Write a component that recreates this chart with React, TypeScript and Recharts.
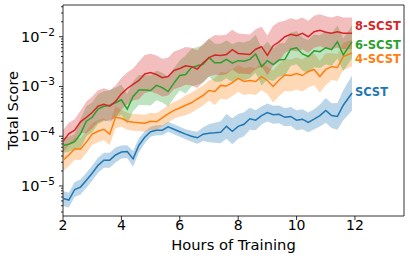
import { ComposedChart, Area, Line, XAxis, YAxis, ReferenceArea, ReferenceDot } from "recharts";

// training time (hours) at each logged evaluation
const hours = [
  2.0, 2.2, 2.4, 2.6, 2.8, 3.0, 3.2, 3.4, 3.6, 3.8,
  4.0, 4.2, 4.4, 4.6, 4.8, 5.0, 5.2, 5.4, 5.6, 5.8,
  6.0, 6.2, 6.4, 6.6, 6.8, 7.0, 7.2, 7.4, 7.6, 7.8,
  8.0, 8.2, 8.4, 8.6, 8.8, 9.0, 9.2, 9.4, 9.6, 9.8,
  10.0, 10.2, 10.4, 10.6, 10.8, 11.0, 11.2, 11.4, 11.6, 11.9,
];

// mean total score per run type
const scst = [
  5.6e-6, 5.2e-6, 8.5e-6, 9.5e-6, 1.3e-5, 1.8e-5, 2.6e-5, 3.3e-5, 3.3e-5, 4.2e-5,
  4.8e-5, 4.9e-5, 3.5e-5, 6.6e-5, 9.5e-5, 1.23e-4, 1.32e-4, 1.32e-4, 1.55e-4, 1.38e-4,
  1.23e-4, 1.1e-4, 1.0e-4, 9.3e-5, 1.1e-4, 1.15e-4, 1.17e-4, 1.2e-4, 1.58e-4, 1.26e-4,
  1.58e-4, 1.74e-4, 2.24e-4, 2.1e-4, 2.6e-4, 3.0e-4, 2.7e-4, 2.75e-4, 2.4e-4, 2.5e-4,
  2.1e-4, 2.2e-4, 1.9e-4, 2.2e-4, 2.6e-4, 3.3e-4, 2.6e-4, 2.5e-4, 4.2e-4, 7.4e-4,
];
const scst4 = [
  3.3e-5, 4.2e-5, 5.6e-5, 5.5e-5, 7.6e-5, 1.1e-4, 1.26e-4, 1.38e-4, 1.1e-4, 2.4e-4,
  2.3e-4, 2.0e-4, 1.9e-4, 1.86e-4, 1.82e-4, 2.0e-4, 1.95e-4, 2.34e-4, 2.8e-4, 3.3e-4,
  3.7e-4, 4.2e-4, 4.7e-4, 5.6e-4, 6.6e-4, 8.3e-4, 7.9e-4, 1.05e-3, 1.02e-3, 1.2e-3,
  1.45e-3, 1.26e-3, 1.32e-3, 1.26e-3, 1.58e-3, 1.32e-3, 1.0e-3, 1.35e-3, 1.7e-3, 1.66e-3,
  1.82e-3, 1.66e-3, 2.0e-3, 2.2e-3, 1.58e-3, 2.2e-3, 2.5e-3, 2.4e-3, 4.0e-3, 4.7e-3,
];
const scst6 = [
  6.5e-5, 6.9e-5, 7.8e-5, 1.12e-4, 2.0e-4, 2.4e-4, 3.5e-4, 4.0e-4, 4.2e-4, 4.7e-4,
  5.4e-4, 3.5e-4, 6.3e-4, 8.5e-4, 8.5e-4, 8.3e-4, 1.05e-3, 9.5e-4, 7.9e-4, 1.17e-3,
  1.66e-3, 1.74e-3, 2.4e-3, 2.6e-3, 2.8e-3, 3.8e-3, 3.0e-3, 3.0e-3, 3.5e-3, 2.95e-3,
  3.3e-3, 3.2e-3, 3.5e-3, 4.5e-3, 2.5e-3, 3.3e-3, 2.75e-3, 3.4e-3, 3.5e-3, 5.6e-3,
  6.0e-3, 4.5e-3, 4.0e-3, 5.2e-3, 5.0e-3, 6.0e-3, 5.5e-3, 7.9e-3, 4.3e-3, 7.9e-3,
];
const scst8 = [
  7.9e-5, 1.12e-4, 1.32e-4, 1.95e-4, 2.4e-4, 3.0e-4, 4.0e-4, 4.4e-4, 4.0e-4, 5.0e-4,
  7.1e-4, 9.1e-4, 1.1e-3, 1.32e-3, 1.78e-3, 1.9e-3, 1.74e-3, 1.5e-3, 1.58e-3, 2.1e-3,
  2.3e-3, 2.6e-3, 2.5e-3, 2.24e-3, 3.0e-3, 3.8e-3, 4.3e-3, 4.2e-3, 4.4e-3, 5.5e-3,
  4.6e-3, 4.5e-3, 4.4e-3, 5.6e-3, 6.3e-3, 4.2e-3, 6.6e-3, 7.9e-3, 1.0e-2, 1.12e-2,
  1.05e-2, 1.17e-2, 1.0e-2, 1.26e-2, 1.35e-2, 1.23e-2, 1.17e-2, 1.26e-2, 1.17e-2, 1.17e-2,
];

// half-width of the shaded band, in decades
const scstSpread = [
  0.15, 0.15, 0.15, 0.15, 0.15, 0.15, 0.15, 0.15, 0.15, 0.15,
  0.13, 0.13, 0.16, 0.14, 0.12, 0.1, 0.1, 0.1, 0.1, 0.1,
  0.1, 0.1, 0.11, 0.12, 0.14, 0.18, 0.2, 0.22, 0.25, 0.26,
  0.25, 0.24, 0.22, 0.2, 0.18, 0.18, 0.18, 0.18, 0.18, 0.19,
  0.2, 0.2, 0.2, 0.2, 0.22, 0.25, 0.25, 0.27, 0.3, 0.35,
];
const scst4Spread = [
  0.22, 0.22, 0.22, 0.22, 0.22, 0.22, 0.22, 0.22, 0.22, 0.22,
  0.17, 0.17, 0.17, 0.17, 0.17, 0.17, 0.17, 0.17, 0.17, 0.17,
  0.17, 0.2, 0.2, 0.2, 0.2, 0.2, 0.27, 0.27, 0.27, 0.27,
  0.27, 0.27, 0.27, 0.27, 0.27, 0.27, 0.32, 0.32, 0.32, 0.32,
  0.32, 0.32, 0.32, 0.32, 0.32, 0.32, 0.27, 0.27, 0.27, 0.27,
];
const scst6Spread = [
  0.15, 0.15, 0.15, 0.3, 0.3, 0.3, 0.3, 0.3, 0.3, 0.3,
  0.3, 0.3, 0.3, 0.3, 0.3, 0.3, 0.3, 0.3, 0.3, 0.3,
  0.3, 0.38, 0.38, 0.38, 0.38, 0.38, 0.38, 0.38, 0.38, 0.38,
  0.38, 0.38, 0.38, 0.38, 0.38, 0.38, 0.33, 0.33, 0.33, 0.33,
  0.33, 0.33, 0.33, 0.33, 0.33, 0.33, 0.33, 0.33, 0.33, 0.33,
];
const scst8Spread = [
  0.22, 0.22, 0.22, 0.22, 0.32, 0.32, 0.32, 0.32, 0.32, 0.32,
  0.32, 0.32, 0.32, 0.38, 0.38, 0.38, 0.38, 0.38, 0.38, 0.38,
  0.38, 0.38, 0.38, 0.38, 0.38, 0.38, 0.4, 0.4, 0.4, 0.4,
  0.4, 0.4, 0.4, 0.4, 0.4, 0.4, 0.4, 0.4, 0.32, 0.32,
  0.32, 0.32, 0.32, 0.32, 0.32, 0.32, 0.32, 0.32, 0.32, 0.32,
];

const xTicks = [2, 4, 6, 8, 10, 12];
const yMajor = [1e-5, 1e-4, 1e-3, 1e-2];
const yMinor = [
  3e-6, 4e-6, 5e-6, 6e-6, 7e-6, 8e-6, 9e-6,
  2e-5, 3e-5, 4e-5, 5e-5, 6e-5, 7e-5, 8e-5, 9e-5,
  2e-4, 3e-4, 4e-4, 5e-4, 6e-4, 7e-4, 8e-4, 9e-4,
  2e-3, 3e-3, 4e-3, 5e-3, 6e-3, 7e-3, 8e-3, 9e-3,
  2e-2, 3e-2, 4e-2,
];

const X_DOMAIN: [number, number] = [2, 13.68];
const Y_DOMAIN: [number, number] = [2.49e-6, 0.0434];
const FONT = "DejaVu Sans";

const series = [
  { key: "scst", name: "SCST", color: "#1f77b4", values: scst, spread: scstSpread, labelAt: 7.6e-4 },
  { key: "scst4", name: "4-SCST", color: "#ff7f0e", values: scst4, spread: scst4Spread, labelAt: 3.6e-3 },
  { key: "scst6", name: "6-SCST", color: "#2ca02c", values: scst6, spread: scst6Spread, labelAt: 6.8e-3 },
  { key: "scst8", name: "8-SCST", color: "#d62728", values: scst8, spread: scst8Spread, labelAt: 1.66e-2 },
];

const data = hours.map((h, i) => {
  const row: Record<string, any> = { h };
  series.forEach((s) => {
    const v = s.values[i];
    const f = Math.pow(10, s.spread[i]);
    row[s.key] = v;
    row[s.key + "Band"] = [v / f, v * f];
  });
  return row;
});

const XTick = ({ x, y, payload }: any) => (
  <g>
    <line x1={x} x2={x} y1={y} y2={y + 4} stroke="#000" strokeWidth={0.8} />
    <text x={x} y={y + 14} textAnchor="middle" fontSize={14} fontFamily={FONT} fill="#000">
      {payload.value}
    </text>
  </g>
);

const YTick = ({ x, y, payload }: any) => {
  const v = payload.value;
  const major = yMajor.includes(v);
  const exp = Math.round(Math.log10(v));
  return (
    <g>
      <line x1={x - (major ? 4 : 2)} x2={x} y1={y} y2={y} stroke="#000" strokeWidth={0.8} />
      {major && (
        <text x={x - 8} y={y + 5} textAnchor="end" fontSize={14.5} fontFamily={FONT} fill="#000">
          10
          <tspan dy={-6} fontSize={10.5}>
            {"\u2212" + -exp}
          </tspan>
        </text>
      )}
    </g>
  );
};

const YLabel = () => (
  <text
    x={18}
    y={110.5}
    transform="rotate(-90, 18, 110.5)"
    textAnchor="middle"
    fontSize={14.5}
    fontFamily={FONT}
    fill="#000"
  >
    Total Score
  </text>
);

export default function App() {
  return (
    <div style={{ position: "absolute", left: 0, top: 0, background: "#fff" }}>
      <ComposedChart width={410} height={259} data={data} margin={{ top: 5, right: 6, bottom: 0, left: 0 }}>
        <XAxis
          dataKey="h"
          type="number"
          domain={X_DOMAIN}
          allowDataOverflow
          ticks={xTicks}
          height={43}
          axisLine={false}
          tickLine={false}
          tickSize={0}
          tickMargin={0}
          tick={<XTick />}
          label={{ value: "Hours of Training", position: "insideBottom", offset: 9, fill: "#000", fontSize: 14.7, fontFamily: FONT }}
        />
        <YAxis
          type="number"
          scale="log"
          domain={Y_DOMAIN}
          allowDataOverflow
          ticks={[...yMajor, ...yMinor]}
          interval={0}
          width={63}
          axisLine={false}
          tickLine={false}
          tickSize={0}
          tickMargin={0}
          tick={<YTick />}
          label={{ content: YLabel }}
        />
        {series.map((s) => (
          <Area
            key={s.key + "Band"}
            dataKey={s.key + "Band"}
            type="linear"
            stroke="none"
            fill={s.color}
            fillOpacity={0.3}
            isAnimationActive={false}
            dot={false}
            activeDot={false}
          />
        ))}
        {series.map((s) => (
          <Line
            key={s.key}
            dataKey={s.key}
            type="linear"
            stroke={s.color}
            strokeWidth={1.5}
            dot={false}
            activeDot={false}
            isAnimationActive={false}
          />
        ))}
        {series.map((s) => (
          <ReferenceDot
            key={s.key + "Label"}
            x={12}
            y={s.labelAt}
            r={0}
            fill="none"
            stroke="none"
            label={{
              value: s.name,
              position: "right",
              offset: 0,
              fill: s.color,
              fontSize: 11.5,
              fontWeight: "bold",
              fontFamily: FONT,
            }}
          />
        ))}
        <ReferenceArea
          x1={X_DOMAIN[0]}
          x2={X_DOMAIN[1]}
          y1={Y_DOMAIN[0]}
          y2={Y_DOMAIN[1]}
          fill="none"
          fillOpacity={0}
          stroke="#000"
          strokeWidth={0.8}
        />
      </ComposedChart>
    </div>
  );
}
